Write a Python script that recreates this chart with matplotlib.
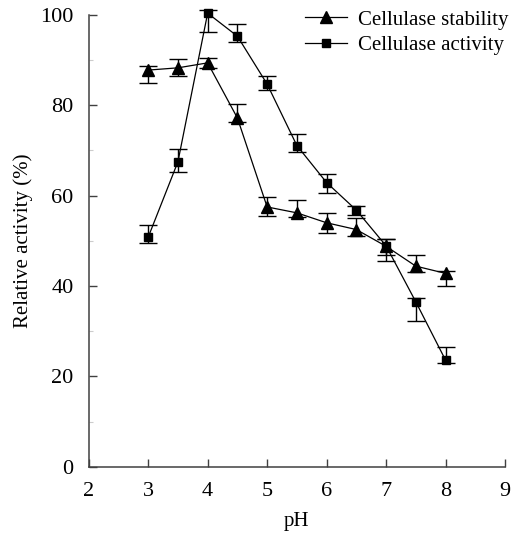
import matplotlib
matplotlib.use("Agg")
import matplotlib.pyplot as plt
from matplotlib.ticker import MultipleLocator

plt.rcParams['font.family'] = ['Liberation Serif', 'DejaVu Serif']

ph = [3, 3.5, 4, 4.5, 5, 5.5, 6, 6.5, 7, 7.5, 8]

stability = [87.8, 88.3, 89.4, 77.2, 57.5, 56.2, 54.0, 52.5, 48.8, 44.4, 42.8]
stability_lo = [2.8, 1.8, 1.1, 1.0, 1.9, 1.0, 2.3, 1.5, 3.3, 1.2, 2.8]
stability_hi = [1.0, 2.0, 1.1, 3.1, 2.1, 2.8, 2.1, 2.6, 1.5, 2.5, 0.5]

activity = [50.8, 67.5, 100.4, 95.3, 84.7, 71.1, 62.9, 56.8, 48.9, 36.5, 23.6]
activity_lo = [1.3, 2.3, 4.2, 1.3, 1.3, 1.4, 2.2, 1.0, 2.0, 4.2, 0.7]
activity_hi = [2.7, 2.8, 0.6, 2.7, 1.8, 2.6, 1.8, 1.0, 1.4, 0.9, 2.8]

fig = plt.figure(figsize=(5.17, 5.37), dpi=100)
ax = fig.add_axes([0.1716, 0.1309, 0.8052, 0.8412])

ax.errorbar(ph, stability, yerr=[stability_lo, stability_hi], color='black',
            marker='^', markersize=8, linewidth=0.9, elinewidth=1.0,
            capsize=6.5, capthick=1.0, label='Cellulase stability', clip_on=False)
ax.errorbar(ph, activity, yerr=[activity_lo, activity_hi], color='black',
            marker='s', markersize=6.2, linewidth=0.9, elinewidth=1.0,
            capsize=6.5, capthick=1.0, label='Cellulase activity', clip_on=False)

ax.set_xlim(2, 9)
ax.set_ylim(0, 100)
ax.set_xticks(range(2, 10))
ax.set_yticks(range(0, 101, 20))
ax.yaxis.set_minor_locator(MultipleLocator(10))

for side in ['top', 'right']:
    ax.spines[side].set_visible(False)
for side in ['left', 'bottom']:
    ax.spines[side].set_color('#404040')
    ax.spines[side].set_linewidth(1.1)

ax.tick_params(axis='both', which='major', direction='in', length=6,
               width=1.0, color='#404040', labelsize=16)
ax.tick_params(axis='y', which='major', pad=11)
ax.tick_params(axis='x', which='major', pad=11)
ax.tick_params(axis='y', which='minor', direction='in', length=3,
               width=0.8, color='#cccccc')

ax.set_xlabel('pH', fontsize=15, labelpad=8)
ax.set_ylabel('Relative activity (%)', fontsize=15, labelpad=5)

handles, labels = ax.get_legend_handles_labels()
handles = [h[0] for h in handles]
ax.legend(handles, labels, loc='upper left', frameon=False, fontsize=15,
          bbox_to_anchor=(305 / 517, 1 - 10 / 537), bbox_transform=fig.transFigure,
          borderpad=0, borderaxespad=0, handlelength=2.0, handletextpad=0.55,
          labelspacing=0.3)

fig.savefig('out.png', dpi=100)
